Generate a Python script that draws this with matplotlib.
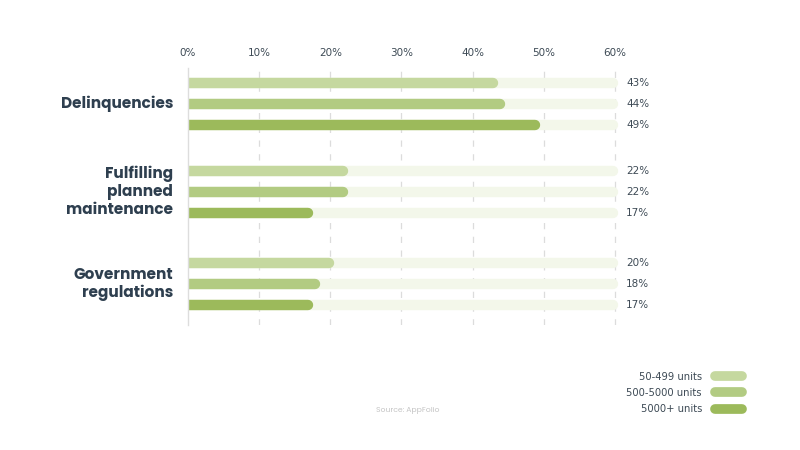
import numpy as np
import matplotlib
matplotlib.use("Agg")
import matplotlib.pyplot as plt
from matplotlib.lines import Line2D

categories = ["Delinquencies", "Fulfilling\nplanned\nmaintenance", "Government\nregulations"]
series = ["50-499 units", "500-5000 units", "5000+ units"]
small = [43, 22, 20]
medium = [44, 22, 18]
large = [49, 17, 17]
ticks = [0, 10, 20, 30, 40, 50, 60]
tick_labels = ["0%", "10%", "20%", "30%", "40%", "50%", "60%"]

colors = ["#c5d89f", "#b2cb82", "#9cba5b"]
track = "#f3f7ea"
text_dark = "#2e3f4f"

fig = plt.figure(figsize=(8, 4.5), dpi=100)
ax = fig.add_axes([188/800, 1-325/450, (622-188)/800, (325-68)/450])

group_pos = [0, 4.2, 8.6]
bar_lw = 7.5

# grid lines (dashed, behind everything)
for t in ticks[1:]:
    ax.axvline(t, color="#dcdcdc", lw=0.9, ls=(0, (5, 6)), zorder=0)

for gi, g in enumerate(group_pos):
    for si, vals in enumerate([small, medium, large]):
        y = g + si - 1
        ax.plot([0, 59.7], [y, y], color=track, lw=bar_lw, solid_capstyle="round", zorder=1)
        ax.plot([0, vals[gi] - 0.2], [y, y], color=colors[si], lw=bar_lw, solid_capstyle="round", zorder=2)
        ax.text(61.6, y, f"{vals[gi]}%", va="center", ha="left", fontsize=7.5,
                color="#3d4a55", clip_on=False)
    ax.text(-2.1, g, categories[gi], ha="right", va="center", fontsize=11, fontweight="bold",
            color=text_dark, linespacing=1.2, family=["Poppins", "Open Sans", "DejaVu Sans"])

ax.set_xlim(0, 61)
ax.set_ylim(group_pos[-1] + 1.95, group_pos[0] - 1.7)
ax.xaxis.tick_top()
ax.set_xticks(ticks)
ax.set_xticklabels(tick_labels, fontsize=7.5, color="#3d4a55")
ax.tick_params(axis="x", length=0, pad=7)
ax.set_yticks([])
for s in ["top", "right", "bottom"]:
    ax.spines[s].set_visible(False)
ax.spines["left"].set_color("#dddddd")
ax.spines["left"].set_linewidth(1.0)

handles = [Line2D([], [], color=c, lw=7, solid_capstyle="round") for c in colors]
leg = fig.legend(handles, series, loc="lower right", bbox_to_anchor=(751/800, 1-423/450),
                 frameon=False, markerfirst=False, handlelength=2.7, handletextpad=1.3,
                 fontsize=7.2, labelspacing=0.62, alignment="right")
for t in leg.get_texts():
    t.set_color("#3d4a55")

fig.text(408/800, 1-411/450, "Source: AppFolio", ha="center", va="center", fontsize=5.5,
         color="#c4c4c4", family=["Poppins", "DejaVu Sans"])

fig.savefig("out.png", dpi=100)
